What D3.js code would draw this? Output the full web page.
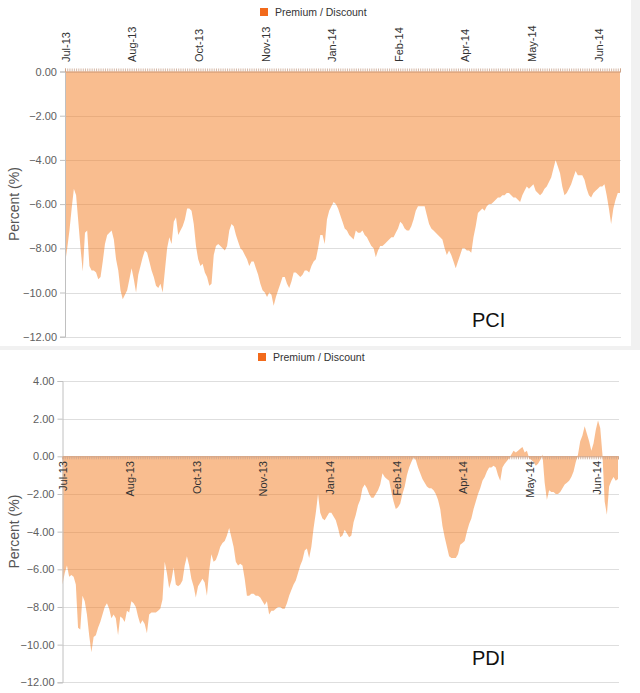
<!DOCTYPE html>
<html>
<head>
<meta charset="utf-8">
<script src="https://cdn.jsdelivr.net/npm/d3@7/dist/d3.min.js"></script>
<style>
  html, body { margin: 0; padding: 0; background: #ffffff; }
  svg { display: block; }
  text { font-family: "Liberation Sans", Arial, sans-serif; }
</style>
</head>
<body>
<div id="chart"></div>
<script>
// ---------------- DATA ----------------
const seriesName = "Premium / Discount";
const tickLabels = ["Jul-13", "Aug-13", "Oct-13", "Nov-13", "Jan-14", "Feb-14", "Apr-14", "May-14", "Jun-14"];
const tickIndex  = [0, 30, 60, 90, 120, 150, 180, 210, 240];

const pciTicks = [0, -2, -4, -6, -8, -10, -12];
const pdiTicks = [4, 2, 0, -2, -4, -6, -8, -10, -12];

const pciValues = [
 -8.7,-8.0,-7.2,-6.2,-5.3,-5.6,-6.8,-8.0,-9.05,-7.3,
 -7.2,-8.8,-9.0,-9.0,-9.1,-9.4,-9.3,-8.6,-7.8,-7.4,
 -7.3,-7.2,-7.6,-8.5,-9.0,-9.9,-10.3,-10.1,-9.9,-9.4,
 -8.9,-9.4,-10.0,-9.2,-8.8,-8.4,-8.1,-8.2,-8.6,-9.0,
 -9.3,-9.7,-9.8,-9.6,-10.0,-9.0,-8.0,-7.5,-7.8,-6.8,
 -6.6,-7.4,-7.2,-7.0,-6.7,-6.2,-6.2,-6.3,-6.9,-7.9,
 -8.5,-8.8,-8.7,-9.1,-9.3,-9.7,-9.6,-8.3,-7.9,-7.8,
 -7.9,-8.0,-8.1,-7.9,-7.2,-6.9,-7.0,-7.4,-7.7,-8.0,
 -8.1,-8.3,-8.5,-8.8,-8.6,-8.6,-8.9,-9.2,-9.6,-9.9,
 -10.0,-10.2,-10.0,-10.1,-10.6,-10.2,-9.9,-9.6,-9.3,-9.3,
 -9.6,-9.8,-9.5,-9.1,-9.1,-9.2,-9.3,-9.2,-9.0,-9.0,
 -9.1,-8.8,-8.6,-8.5,-8.0,-7.4,-7.4,-7.8,-6.7,-6.3,
 -6.1,-5.9,-6.0,-6.2,-6.5,-6.8,-7.1,-7.2,-7.4,-7.5,
 -7.6,-7.2,-7.3,-7.3,-7.2,-7.4,-7.5,-7.7,-7.9,-8.0,
 -8.4,-8.1,-7.9,-7.9,-7.8,-7.7,-7.6,-7.5,-7.5,-7.3,
 -7.1,-6.8,-6.9,-7.1,-7.2,-7.2,-7.0,-6.7,-6.3,-6.1,
 -6.1,-6.1,-6.1,-6.5,-6.9,-7.1,-7.2,-7.3,-7.4,-7.5,
 -7.6,-8.0,-8.3,-8.1,-8.3,-8.6,-8.9,-8.6,-8.3,-8.0,
 -8.0,-8.1,-8.1,-8.2,-7.5,-7.0,-6.4,-6.3,-6.2,-6.3,
 -6.1,-6.0,-6.0,-5.9,-5.8,-5.7,-5.7,-5.6,-5.6,-5.5,
 -5.5,-5.6,-5.7,-5.7,-5.8,-5.9,-5.6,-5.4,-5.2,-5.3,
 -5.2,-5.1,-5.4,-5.5,-5.6,-5.5,-5.3,-5.2,-5.0,-4.8,
 -4.4,-4.0,-4.3,-4.6,-5.2,-5.6,-5.5,-5.3,-5.1,-4.8,
 -4.5,-4.7,-4.7,-4.7,-4.9,-5.3,-5.6,-5.7,-5.5,-5.4,
 -5.3,-5.2,-5.2,-5.1,-5.6,-6.2,-6.9,-6.2,-5.8,-5.5,
 -5.5
];

const pdiValues = [
 -6.8,-6.2,-5.8,-6.4,-6.3,-6.4,-6.8,-9.1,-9.2,-7.4,
 -7.7,-8.4,-9.5,-10.4,-9.6,-9.5,-9.1,-8.8,-8.4,-8.0,
 -7.8,-8.1,-8.6,-8.4,-8.6,-9.5,-8.5,-8.6,-8.8,-8.2,
 -8.3,-7.7,-7.8,-8.0,-8.5,-8.9,-8.7,-8.9,-9.4,-8.4,
 -8.3,-8.3,-8.3,-8.2,-8.1,-7.6,-5.6,-6.2,-7.0,-6.6,
 -5.9,-6.8,-6.9,-6.8,-6.6,-5.8,-5.3,-5.8,-6.5,-6.9,
 -7.5,-6.9,-6.7,-6.5,-6.7,-7.4,-6.1,-5.2,-5.6,-5.5,
 -5.2,-4.8,-4.6,-4.5,-4.2,-3.8,-4.3,-4.8,-5.6,-5.8,
 -5.7,-5.8,-6.5,-7.4,-7.4,-7.3,-7.3,-7.4,-7.4,-7.5,
 -7.7,-7.9,-7.7,-8.4,-8.2,-8.2,-8.1,-8.0,-8.0,-8.1,
 -8.1,-7.8,-7.4,-7.1,-6.8,-6.6,-6.2,-5.8,-5.5,-5.0,
 -4.9,-5.4,-4.8,-3.8,-3.0,-2.0,-3.0,-3.3,-3.4,-3.2,
 -3.0,-3.0,-3.2,-3.4,-3.8,-4.3,-4.2,-3.9,-4.1,-4.3,
 -4.2,-3.5,-3.1,-2.6,-2.3,-1.7,-1.5,-1.7,-2.0,-2.2,
 -2.2,-2.0,-1.8,-1.5,-0.9,-1.1,-1.2,-1.3,-1.9,-2.4,
 -2.8,-2.7,-2.5,-2.0,-1.6,-1.0,-0.6,-0.3,-0.05,-0.2,
 -0.6,-0.9,-1.2,-1.4,-1.6,-1.7,-1.7,-1.8,-2.0,-2.3,
 -2.8,-3.7,-4.3,-4.8,-5.3,-5.4,-5.4,-5.4,-5.2,-4.7,
 -4.6,-4.5,-4.0,-3.6,-3.3,-2.8,-2.4,-2.0,-1.7,-1.3,
 -1.1,-0.8,-0.6,-0.6,-0.5,-0.6,-1.0,-1.3,-0.6,-0.4,
 -0.25,-0.1,0.1,0.3,0.2,0.3,0.4,0.5,0.2,0.3,
 -0.1,-0.2,-0.3,-0.5,-0.4,-0.2,0.1,-1.4,-2.3,-1.8,
 -1.9,-1.9,-2.0,-2.0,-1.9,-1.7,-1.5,-1.4,-1.3,-1.1,
 -0.8,-0.3,0.1,0.8,1.1,1.6,1.2,0.8,0.3,0.7,
 1.4,1.9,1.5,0.1,-2.4,-3.1,-1.6,-1.3,-1.1,-1.3,
 -1.2
];

// ---------------- DRAW ----------------
const W = 640, H = 693;
const svg = d3.select("#chart").append("svg").attr("width", W).attr("height", H);

// screenshot frame pieces (light grey borders)
svg.append("rect").attr("x", 631).attr("y", 0).attr("width", 9).attr("height", 349).attr("fill", "#f1f1f1");
svg.append("rect").attr("x", 0).attr("y", 346).attr("width", 640).attr("height", 4).attr("fill", "#f1f1f1");

const seriesColor = "#f47b20";

function drawPanel(opt) {
  const g = svg.append("g");
  const x = d3.scaleLinear().domain([0, opt.values.length - 1]).range([opt.left, opt.right]);
  const y = d3.scaleLinear().domain([opt.yMin, opt.yMax]).range([opt.bottom, opt.top]);

  // legend
  const lg = g.append("g");
  lg.append("rect").attr("x", opt.legendX).attr("y", opt.legendY - 8).attr("width", 8).attr("height", 8)
    .attr("fill", "#f26a1b");
  lg.append("text").attr("x", opt.legendX + 15).attr("y", opt.legendY)
    .attr("font-size", "10.5px").attr("fill", "#333").text(seriesName);

  // gridlines
  g.append("g").selectAll("line").data(opt.yTicks).join("line")
    .attr("x1", opt.left).attr("x2", opt.right + 1)
    .attr("y1", d => Math.round(y(d)) + 0.5).attr("y2", d => Math.round(y(d)) + 0.5)
    .attr("stroke", "#dedede").attr("stroke-width", 1);

  // area
  const area = d3.area()
    .x((d, i) => x(i))
    .y0(y(0))
    .y1(d => y(d));
  g.append("path").datum(opt.values).attr("d", area)
    .attr("fill", seriesColor).attr("fill-opacity", 0.5).attr("stroke", "none");

  // y axis
  const yAxis = d3.axisLeft(y).tickValues(opt.yTicks).tickFormat(d3.format(".2f")).tickSize(5).tickPadding(3);
  const ya = g.append("g").attr("transform", `translate(${opt.left},0)`).call(yAxis);
  ya.select(".domain").attr("stroke", "#c0c0c0");
  ya.selectAll(".tick line").attr("stroke", "#c0c0c0");
  ya.selectAll(".tick text").attr("font-size", "11px").attr("fill", "#606060")
    .attr("font-family", "'Liberation Sans', Arial, sans-serif");

  // y title
  g.append("text")
    .attr("transform", `translate(${opt.titleX},${(opt.top + opt.bottom) / 2}) rotate(-90)`)
    .attr("text-anchor", "middle").attr("font-size", "14px").attr("fill", "#555")
    .text("Percent (%)");

  // x axis at zero with a tick for every category
  const allIdx = d3.range(opt.values.length);
  const xAxis = (opt.labelsAbove ? d3.axisTop(x) : d3.axisBottom(x))
    .tickValues(allIdx).tickSize(3).tickFormat("");
  const xa = g.append("g").attr("transform", `translate(0,${y(0)})`).call(xAxis);
  xa.select(".domain").attr("stroke", "#d9a583");
  xa.selectAll(".tick line").attr("stroke", "#c9a58e").attr("stroke-width", 0.8);

  // category labels
  g.append("g").selectAll("text").data(tickIndex).join("text")
    .attr("transform", (d) => `translate(${x(d) + 1},${opt.labelY}) rotate(-90)`)
    .attr("text-anchor", opt.labelsAbove ? "start" : "end")
    .attr("dy", "0.35em")
    .attr("font-size", "11px").attr("fill", "#333")
    .text((d, i) => tickLabels[i]);

  // fund name
  g.append("text").attr("x", opt.nameX).attr("y", opt.nameY)
    .attr("font-family", "'Open Sans', 'Noto Sans', sans-serif")
    .attr("font-size", "20px").attr("fill", "#111").text(opt.name);
}

drawPanel({
  values: pciValues, yTicks: pciTicks, yMin: -12, yMax: 0,
  left: 65, right: 620, top: 71.5, bottom: 336.7,
  legendX: 260, legendY: 16, titleX: 19,
  labelsAbove: true, labelY: 62,
  name: "PCI", nameX: 472, nameY: 327
});

drawPanel({
  values: pdiValues, yTicks: pdiTicks, yMin: -12, yMax: 4,
  left: 62.5, right: 618, top: 381, bottom: 682.3,
  legendX: 258, legendY: 361, titleX: 19,
  labelsAbove: false, labelY: 461,
  name: "PDI", nameX: 472, nameY: 665
});
</script>
</body>
</html>
